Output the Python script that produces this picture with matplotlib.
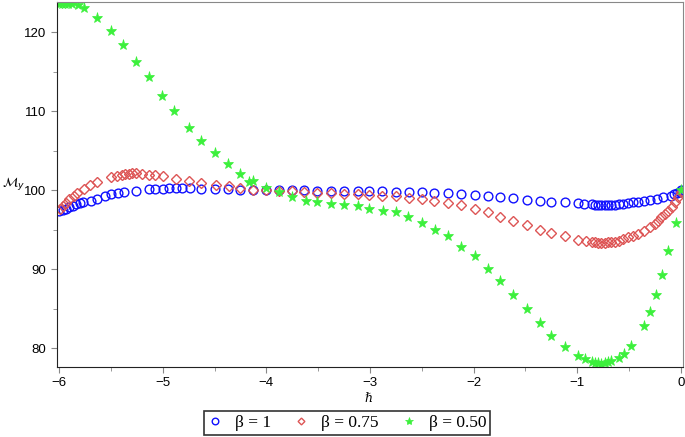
import matplotlib
matplotlib.use("Agg")
import matplotlib.pyplot as plt
from matplotlib.ticker import MultipleLocator

# beta = 1 (blue circles)
x_b1 = [-6.0, -5.96, -5.93, -5.90, -5.87, -5.84, -5.80, -5.77, -5.69, -5.63, -5.56, -5.50,
        -5.43, -5.37, -5.26, -5.13, -5.07, -5.00, -4.94, -4.87, -4.81, -4.74, -4.63, -4.50,
        -4.37, -4.25, -4.13, -4.00, -3.88, -3.75, -3.64, -3.51, -3.38, -3.25, -3.12, -3.01,
        -2.88, -2.75, -2.62, -2.50, -2.38, -2.25, -2.12, -1.99, -1.86, -1.75, -1.62, -1.49,
        -1.36, -1.25, -1.12, -0.99, -0.94, -0.86, -0.83, -0.80, -0.77, -0.73, -0.70, -0.67,
        -0.64, -0.60, -0.56, -0.51, -0.46, -0.41, -0.36, -0.30, -0.23, -0.17, -0.10, -0.07,
        -0.04, -0.01, 0.0]
y_b1 = [97.3, 97.45, 97.6, 97.8, 98.0, 98.2, 98.35, 98.45, 98.65, 98.9, 99.2, 99.45,
        99.6, 99.7, 99.85, 100.1, 100.15, 100.15, 100.2, 100.2, 100.2, 100.2, 100.15, 100.1,
        100.1, 100.05, 100.04, 100.04, 100.0, 99.96, 99.96, 99.9, 99.87, 99.83, 99.83, 99.83,
        99.83, 99.8, 99.75, 99.72, 99.66, 99.58, 99.5, 99.4, 99.28, 99.15, 98.95, 98.77,
        98.65, 98.52, 98.44, 98.32, 98.23, 98.19, 98.14, 98.14, 98.1, 98.1, 98.1, 98.1,
        98.14, 98.19, 98.27, 98.35, 98.44, 98.52, 98.65, 98.77, 98.9, 99.07, 99.28, 99.45,
        99.62, 99.78, 100.0]

# beta = 0.75 (red diamonds)
x_b075 = [-5.99, -5.96, -5.93, -5.90, -5.86, -5.83, -5.76, -5.70, -5.63, -5.50, -5.44, -5.39,
          -5.36, -5.33, -5.30, -5.26, -5.20, -5.13, -5.07, -5.00, -4.87, -4.75, -4.63, -4.49,
          -4.36, -4.25, -4.13, -4.00, -3.88, -3.75, -3.64, -3.51, -3.38, -3.25, -3.12, -3.01,
          -2.88, -2.75, -2.62, -2.50, -2.38, -2.25, -2.12, -1.99, -1.86, -1.75, -1.62, -1.49,
          -1.36, -1.25, -1.12, -0.99, -0.92, -0.86, -0.83, -0.80, -0.77, -0.73, -0.70, -0.67,
          -0.64, -0.60, -0.56, -0.51, -0.46, -0.41, -0.36, -0.30, -0.25, -0.22, -0.19, -0.15,
          -0.12, -0.09, -0.06, -0.03, 0.0]
y_b075 = [97.65, 98.0, 98.4, 98.85, 99.25, 99.6, 100.1, 100.6, 101.0, 101.6, 101.8, 101.95,
          102.0, 102.05, 102.1, 102.1, 102.0, 101.95, 101.9, 101.75, 101.4, 101.1, 100.85, 100.65,
          100.45, 100.3, 100.04, 100.0, 99.9, 99.83, 99.7, 99.62, 99.58, 99.49, 99.49, 99.4,
          99.28, 99.2, 98.99, 98.86, 98.57, 98.35, 98.05, 97.6, 97.2, 96.55, 96.1, 95.57,
          94.97, 94.56, 94.14, 93.71, 93.58, 93.46, 93.37, 93.35, 93.35, 93.35, 93.37, 93.42,
          93.46, 93.58, 93.8, 94.0, 94.2, 94.43, 94.85, 95.27, 95.7, 96.1, 96.54, 96.96,
          97.38, 97.8, 98.44, 99.07, 99.8]

# beta = 0.50 (green stars)
x_b050 = [-6.0, -5.97, -5.94, -5.91, -5.88, -5.82, -5.76, -5.63, -5.50, -5.38, -5.26, -5.13,
          -5.01, -4.89, -4.75, -4.63, -4.50, -4.37, -4.25, -4.17, -4.13, -4.00, -3.88, -3.75,
          -3.62, -3.51, -3.38, -3.25, -3.12, -3.01, -2.87, -2.75, -2.63, -2.50, -2.37, -2.25,
          -2.12, -1.99, -1.86, -1.75, -1.62, -1.49, -1.36, -1.25, -1.12, -0.99, -0.93, -0.86,
          -0.83, -0.80, -0.77, -0.73, -0.70, -0.67, -0.60, -0.55, -0.48, -0.36, -0.30, -0.24,
          -0.18, -0.12, -0.05, 0.0]
y_b050 = [123.6, 123.6, 123.6, 123.6, 123.6, 123.4, 123.1, 121.8, 120.1, 118.3, 116.2, 114.3,
          111.9, 109.96, 107.9, 106.24, 104.68, 103.3, 102.0, 101.05, 101.1, 100.2, 99.7, 99.07,
          98.65, 98.52, 98.23, 98.1, 97.93, 97.6, 97.38, 97.18, 96.54, 95.8, 94.97, 94.14,
          92.8, 91.6, 90.05, 88.45, 86.75, 84.94, 83.16, 81.56, 80.16, 79.03, 78.6, 78.27,
          78.1, 78.1, 78.0, 78.1, 78.2, 78.4, 78.8, 79.3, 80.3, 82.8, 84.5, 86.75,
          89.2, 92.3, 95.8, 100.0]

labels = ["β = 1", "β = 0.75", "β = 0.50"]

fig = plt.figure(figsize=(6.85, 4.37), dpi=100)
ax = fig.add_axes([57/685, 1 - 367/437, (683 - 57)/685, (367 - 2)/437])

ax.plot(x_b1, y_b1, linestyle="none", marker="o", ms=6.3, mfc="none", mec="#1010ff",
        mew=1.0, label=labels[0])
ax.plot(x_b075, y_b075, linestyle="none", marker="D", ms=4.6, mfc="none", mec="#dd5555",
        mew=1.0, label=labels[1])
ax.plot(x_b050, y_b050, linestyle="none", marker="*", ms=8.0, color="#3cf03c",
        mew=0.5, label=labels[2], clip_on=True)

ax.set_xlim(-6.02, 0.02)
ax.set_ylim(77.6, 123.8)
ax.xaxis.set_major_locator(MultipleLocator(1))
ax.xaxis.set_minor_locator(MultipleLocator(0.5))
ax.yaxis.set_major_locator(MultipleLocator(10))
ax.yaxis.set_minor_locator(MultipleLocator(5))
ax.tick_params(which="both", direction="out", color="#888888", labelsize=9.5,
               labelfontfamily="Liberation Sans")
ax.tick_params(which="major", length=4)
ax.tick_params(which="minor", length=3)
for s in ["left", "bottom"]:
    ax.spines[s].set_color("#222222")
for s in ["top", "right"]:
    ax.spines[s].set_color("#888888")

fig.text(2/685, 1 - 183/437, r"$\mathcal{M}_y$", fontsize=9.5, ha="left", va="center")
fig.text(368/685, 1 - 399/437, "ℏ", fontsize=9, ha="center", va="center",
         fontstyle="italic", family="DejaVu Serif")

leg = fig.legend(loc="center", bbox_to_anchor=(347/685, 1 - 423/437), ncol=3,
                 frameon=True, fancybox=False, edgecolor="#333333", framealpha=1,
                 prop={"family": "Liberation Serif", "size": 12.5},
                 handletextpad=0.7, columnspacing=1.3, handlelength=0.9,
                 borderpad=0.2, borderaxespad=0, markerscale=0.75)
leg.get_frame().set_linewidth(1.2)

fig.savefig("out.png", dpi=100)
